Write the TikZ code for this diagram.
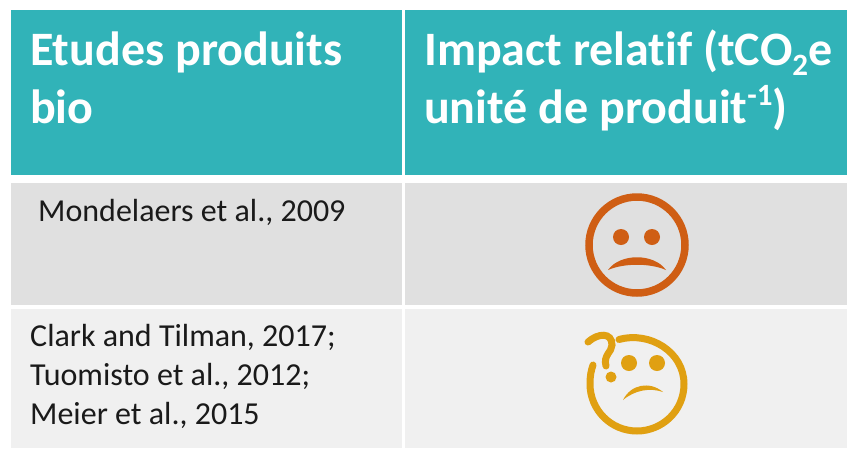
\documentclass[tikz,border=0pt]{standalone}
\usepackage{fontspec}
\setmainfont[RawFeature={-liga;-clig}]{Carlito}
\definecolor{headteal}{HTML}{31B3B8}
\definecolor{rowone}{HTML}{E0E0E0}
\definecolor{rowtwo}{HTML}{F0F0F0}
\definecolor{sadorange}{HTML}{CF5E14}
\definecolor{askamber}{HTML}{E0A012}
\definecolor{inktext}{HTML}{1A1A1A}
\tikzset{
  x=1pt,y=-1pt,
  cell/.style={anchor=north west,inner sep=0pt,outer sep=0pt,draw=none},
  headtext/.style={anchor=base west,inner sep=0pt,text=white,font=\fontsize{48}{48}\selectfont\bfseries},
  bodytext/.style={anchor=base west,inner sep=0pt,text=inktext,font=\fontsize{32}{32}\selectfont},
  sadline/.style={draw=sadorange,line width=7.5pt},
  askline/.style={draw=askamber,line width=7pt,line cap=round},
}
\begin{document}
\begin{tikzpicture}
\useasboundingbox (0,0) rectangle (847,448);
\fill[white] (0,0) rectangle (847,448);
\node[cell,fill=headteal,minimum width=391pt,minimum height=165pt] (h1) at (11,10) {};
\node[cell,fill=headteal,minimum width=442pt,minimum height=165pt] (h2) at (405,10) {};
\node[cell,fill=rowone,minimum width=391pt,minimum height=122pt] (a1) at (11,183) {};
\node[cell,fill=rowone,minimum width=442pt,minimum height=122pt] (a2) at (405,183) {};
\node[cell,fill=rowtwo,minimum width=391pt,minimum height=139pt] (b1) at (11,309) {};
\node[cell,fill=rowtwo,minimum width=442pt,minimum height=139pt] (b2) at (405,309) {};
\node[headtext] (t1) at (30,65.5) {Etudes produits};
\node[headtext] (t2) at (30,123) {bio};
\node[headtext] (t3) at (424,65.5) {Impact relatif (tCO\raisebox{-0.2em}{\fontsize{31}{31}\selectfont 2}e};
\node[headtext] (t4) at (424,123) {unité de produit\raisebox{0.36em}{\fontsize{31}{31}\selectfont -1})};
\node[bodytext] (m) at (38,221) {Mondelaers et al., 2009};
\node[bodytext] (c1) at (30,346.5) {Clark and Tilman, 2017;};
\node[bodytext] (c2) at (30,385.5) {Tuomisto et al., 2012;};
\node[bodytext] (c3) at (30,424) {Meier et al., 2015};
% sad face
\draw[sadline] (637,245) circle (48);
\fill[sadorange] (621,237) circle (8) (652,237) circle (8);
\fill[sadorange] (608,270) .. controls (620,253) and (654,253) .. (666,270) .. controls (650,263) and (624,263) .. (608,270) -- cycle;
% doubtful face
\draw[askline] (619,339.5) .. controls (650,331) and (684,352) .. (684,384) .. controls (684,411) and (662,431) .. (637,431) .. controls (611,431) and (590,410) .. (590,384) .. controls (590,376) and (591,371) .. (593,365);
\draw[askline] (588,342) .. controls (598,333) and (612,332) .. (612,345) .. controls (612,352) and (603,355) .. (606,366);
\fill[askamber] (611,377) circle (5.5);
\fill[askamber] (629,363) circle (8) (657,363) circle (8);
\fill[askamber] (623,400) .. controls (631,384) and (650,381) .. (663,392) .. controls (650,387.5) and (635,390) .. (623,400) -- cycle;
\end{tikzpicture}
\end{document}
